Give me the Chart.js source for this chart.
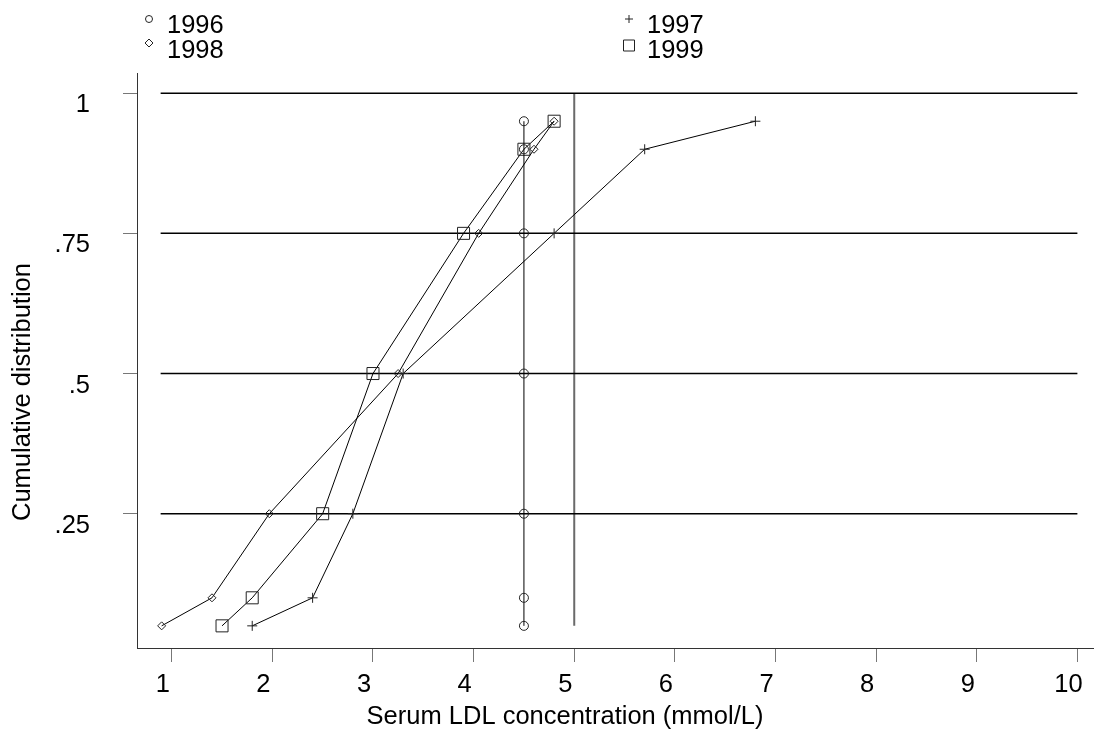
<html>
<head>
    <title>Serum LDL cumulative distribution</title>
    <script src="https://cdn.jsdelivr.net/npm/chart.js@4.4.0/dist/chart.umd.min.js"></script>
    <style>
        body { margin: 0; background: #fff; }
        #wrap { width: 1094px; height: 732px; position: relative; }
    </style>
</head>
<body>
    <div id="wrap"><canvas id="myChart"></canvas></div>
    <script type="text/javascript">
        // cumulative proportions (y) and the LDL value read for each year (x)
        const quantiles = [0.05, 0.1, 0.25, 0.5, 0.75, 0.9, 0.95];
        const ldl1996 = [4.5, 4.5, 4.5, 4.5, 4.5, 4.5, 4.5];
        const ldl1997 = [1.8, 2.4, 2.8, 3.3, 4.8, 5.7, 6.8];
        const ldl1998 = [0.9, 1.4, 1.97, 3.25, 4.05, 4.6, 4.8];
        const ldl1999 = [1.5, 1.8, 2.5, 3.0, 3.9, 4.5, 4.8];

        const xTicks = [1, 2, 3, 4, 5, 6, 7, 8, 9, 10];
        const yTicks = [0.25, 0.5, 0.75, 1];
        const yTickLabels = ['.25', '.5', '.75', '1'];

        // reference lines
        const refYs = [0.25, 0.5, 0.75, 1];
        const refXRange = [0.89, 10];
        const refX = 5;
        const refXYRange = [0.05, 1];

        const xTitle = 'Serum LDL concentration (mmol/L)';
        const yTitle = 'Cumulative distribution';

        const FONT_FAMILY = "'Liberation Sans', Arial, sans-serif";
        const FONT_SIZE = 25.5;
        Chart.defaults.font.family = FONT_FAMILY;
        Chart.defaults.font.size = FONT_SIZE;
        Chart.defaults.color = '#000';

        function pts(xs) {
            return xs.map((v, k) => ({x: v, y: quantiles[k]}));
        }

        function series(label, xs, style, radius) {
            return {
                label: label,
                data: pts(xs),
                showLine: true,
                borderColor: '#000',
                borderWidth: 1,
                pointStyle: style,
                pointRadius: radius,
                pointBorderColor: '#222',
                pointBorderWidth: 1,
                pointBackgroundColor: 'rgba(0,0,0,0)',
                tension: 0,
                order: 0,
                clip: false
            };
        }

        const datasets = [
            series('1996', ldl1996, 'circle', 4.5),
            series('1997', ldl1997, 'cross', 5),
            series('1998', ldl1998, 'rectRot', 4),
            series('1999', ldl1999, 'rect', 8.5)
        ];
        refYs.forEach(function(ry){
            datasets.push({
                label: 'ref',
                data: [{x: refXRange[0], y: ry}, {x: refXRange[1], y: ry}],
                showLine: true, borderColor: '#000', borderWidth: 1.5,
                pointRadius: 0, order: 1
            });
        });
        datasets.push({
            label: 'ref',
            data: [{x: refX, y: refXYRange[0]}, {x: refX, y: refXYRange[1]}],
            showLine: true, borderColor: '#6a6a6a', borderWidth: 2,
            pointRadius: 0, order: 1
        });

        const legendItems = [
            {label: '1996', style: 'circle', r: 3.5, x: 149, y: 19},
            {label: '1998', style: 'rectRot', r: 4, x: 149, y: 43},
            {label: '1997', style: 'cross', r: 4, x: 629, y: 19},
            {label: '1999', style: 'rect', r: 5.5, x: 629, y: 45.5}
        ];

        function drawMarker(ctx, style, r, x, y) {
            ctx.beginPath();
            if (style === 'circle') {
                ctx.arc(x, y, r, 0, Math.PI * 2);
            } else if (style === 'rectRot') {
                ctx.moveTo(x, y - r); ctx.lineTo(x + r, y);
                ctx.lineTo(x, y + r); ctx.lineTo(x - r, y); ctx.closePath();
            } else if (style === 'cross') {
                ctx.moveTo(x - r, y); ctx.lineTo(x + r, y);
                ctx.moveTo(x, y - r); ctx.lineTo(x, y + r);
            } else {
                ctx.rect(x - r, y - r, 2 * r, 2 * r);
            }
            ctx.stroke();
        }

        const decorations = {
            id: 'decorations',
            afterDraw(chart) {
                const ctx = chart.ctx;
                ctx.save();
                ctx.fillStyle = '#000';
                ctx.strokeStyle = '#222';
                ctx.lineWidth = 1;
                ctx.font = FONT_SIZE + 'px ' + FONT_FAMILY;
                ctx.textBaseline = 'alphabetic';
                ctx.textAlign = 'left';
                legendItems.forEach(function(it){
                    drawMarker(ctx, it.style, it.r, it.x, it.y);
                    ctx.fillText(it.label, it.x + 18, it.y < 30 ? 33 : 58);
                });
                ctx.textAlign = 'center';
                ctx.textBaseline = 'middle';
                ctx.fillText(xTitle, 565, 717);
                ctx.translate(23, 392);
                ctx.rotate(-Math.PI / 2);
                ctx.fillText(yTitle, 0, 0);
                ctx.restore();
            }
        };

        const config = {
            type: 'scatter',
            data: {datasets: datasets},
            plugins: [decorations],
            options: {
                responsive: true,
                maintainAspectRatio: false,
                animation: false,
                layout: {autoPadding: false, padding: {top: 73, left: 0, right: 0, bottom: 0}},
                plugins: {
                    legend: {display: false},
                    tooltip: {enabled: false}
                },
                scales: {
                    x: {
                        type: 'linear',
                        min: 0.655,
                        max: 10.165,
                        afterBuildTicks: (s) => { s.ticks = xTicks.map(v => ({value: v})); },
                        afterFit: (s) => { s.height = 84; s.paddingLeft = 0; s.paddingRight = 0; },
                        ticks: {
                            autoSkip: false, maxRotation: 0, padding: 8,
                            labelOffset: -9, color: '#000'
                        },
                        grid: {drawOnChartArea: false, drawTicks: true, tickLength: 14, color: '#777'},
                        border: {color: '#333', width: 1}
                    },
                    y: {
                        type: 'linear',
                        min: 0.0105,
                        max: 1.036,
                        afterBuildTicks: (s) => { s.ticks = yTicks.map(v => ({value: v})); },
                        afterFit: (s) => { s.width = 137; s.paddingTop = 0; s.paddingBottom = 0; },
                        ticks: {
                            autoSkip: false, padding: 33, labelOffset: 12, color: '#000',
                            callback: (v) => yTickLabels[yTicks.indexOf(v)]
                        },
                        grid: {drawOnChartArea: false, drawTicks: true, tickLength: 14, color: '#777'},
                        border: {color: '#333', width: 1}
                    }
                }
            }
        };
        var myChart = new Chart(document.getElementById('myChart'), config);
    </script>
</body>
</html>
